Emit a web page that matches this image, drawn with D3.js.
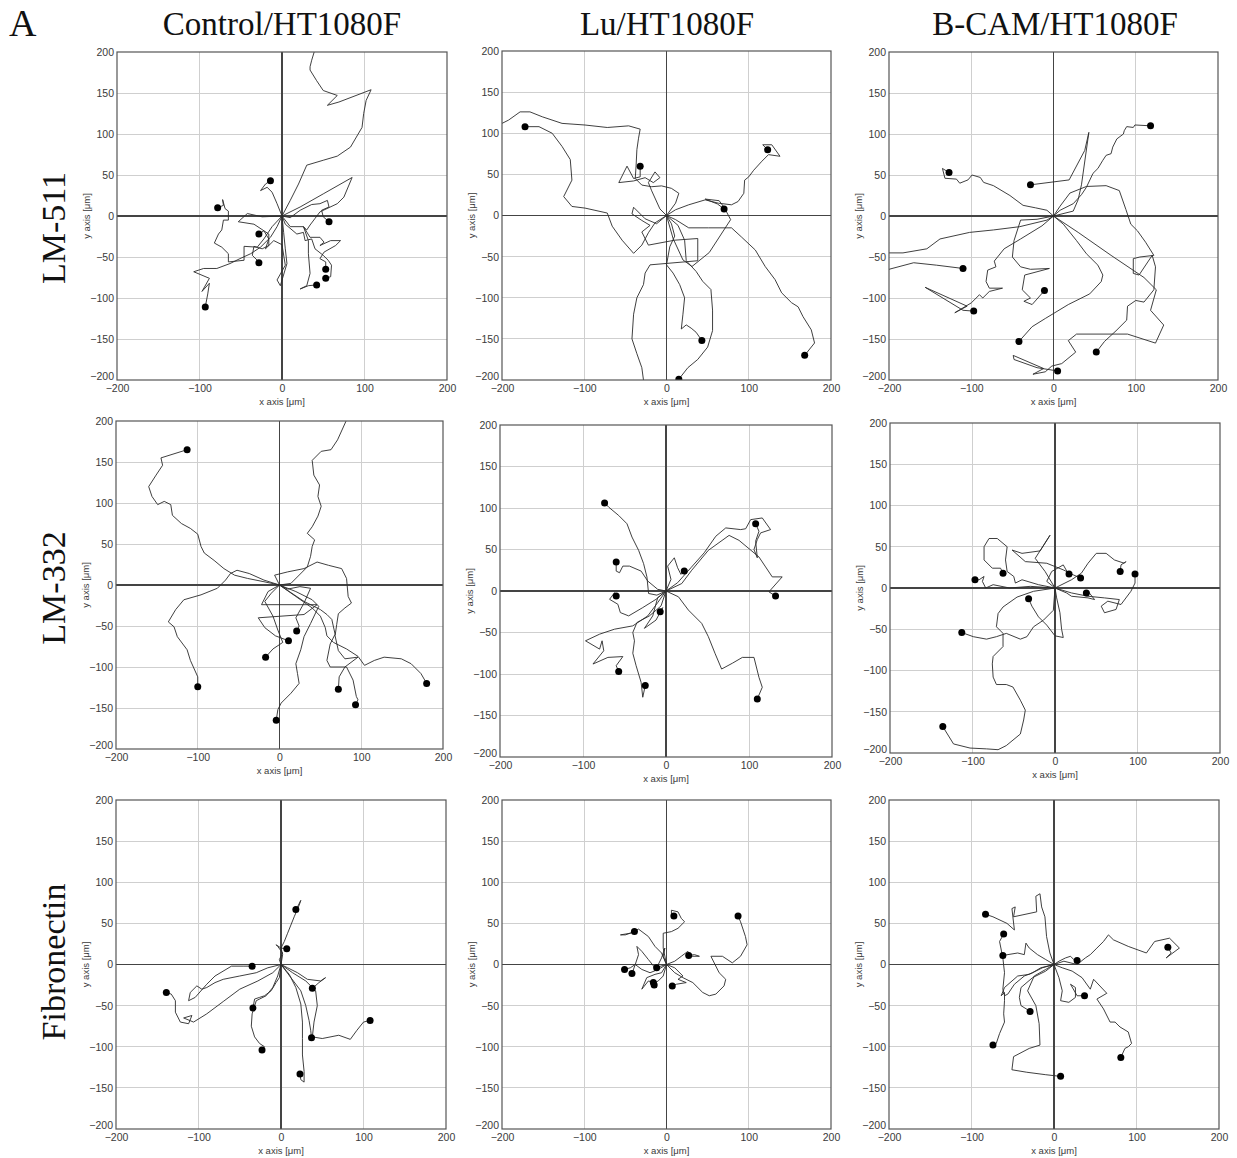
<!DOCTYPE html>
<html>
<head>
<meta charset="utf-8">
<script src="https://cdn.jsdelivr.net/npm/d3@7"></script>
<style>
  html, body { margin: 0; padding: 0; background: #fff; }
  svg { display: block; }
</style>
</head>
<body>
<script>
// Cell migration tracks (µm), every track starts at the origin and ends at its dot.
const colTitles = ["Control/HT1080F", "Lu/HT1080F", "B-CAM/HT1080F"];
const rowTitles = ["LM-511", "LM-332", "Fibronectin"];
const xTicks = [-200, -100, 0, 100, 200];
const yTicks = [-200, -150, -100, -50, 0, 50, 100, 150, 200];

const controlLM511 = [
  [[0,0],[10,19],[20,39],[30,62],[50,68],[67,73],[83,84],[97,108],[99,125],[102,141],[108,154],[69,139],[55,135],[67,147],[50,153],[42,165],[34,178],[34,182],[36,190],[39,200],[41,215]],
  [[0,0],[-6,15],[-12,29],[-18,35],[-26,31],[-20,39],[-14,43]],
  [[0,0],[-12,-13],[-22,-28],[-30,-38],[-46,-37],[-46,-54],[-65,-56],[-65,-46],[-73,-38],[-82,-33],[-77,-22],[-73,-17],[-71,-5],[-65,-5],[-65,6],[-69,9],[-72,20],[-71,13],[-78,10]],
  [[0,0],[-6,-13],[-14,-26],[-26,-38],[-38,-46],[-51,-52],[-63,-58],[-79,-64],[-95,-64],[-107,-68],[-88,-76],[-97,-92],[-88,-82],[-90,-95],[-93,-111]],
  [[0,0],[2,-20],[4,-40],[6,-58],[-2,-85],[-6,-78],[4,-60],[0,-35],[-10,-30],[-20,-40],[-16,-28],[-22,-18],[-28,-22]],
  [[0,0],[-24,-1],[-42,3],[-53,-7],[-34,-10],[-16,-22],[-16,-36],[-24,-40],[-34,-37],[-36,-48],[-30,-54],[-28,-57]],
  [[0,0],[10,-2],[22,7],[36,14],[46,15],[55,19],[57,11],[48,7],[50,-1],[57,-7]],
  [[0,0],[22,11],[50,27],[85,47],[75,23],[67,15],[46,5],[40,-3],[34,-11],[30,-17],[26,-13],[32,-30],[32,-46],[34,-70],[30,-85],[22,-89],[32,-85],[42,-84]],
  [[0,0],[10,-13],[26,-13],[34,-26],[46,-26],[51,-32],[46,-36],[59,-30],[71,-30],[65,-36],[51,-44],[46,-52],[53,-56],[53,-65]],
  [[0,0],[4,-10],[18,-22],[26,-20],[28,-30],[36,-28],[40,-40],[50,-48],[56,-54],[60,-60],[59,-74],[53,-76]]
];

const luLM511 = [
  [[0,0],[-14,-9],[-22,-21],[-30,-36],[-40,-46],[-54,-30],[-66,-13],[-72,3],[-99,9],[-115,11],[-125,23],[-115,43],[-117,68],[-127,84],[-139,100],[-155,108],[-172,108]],
  [[0,0],[11,15],[15,27],[6,33],[-6,36],[-18,35],[-30,37],[-38,45],[-37,60],[-36,80],[-34,94],[-32,105],[-46,109],[-72,107],[-99,110],[-127,112],[-151,120],[-166,126],[-178,126],[-192,116],[-200,112],[-215,110]],
  [[0,0],[-8,8],[-18,30],[-22,40],[-14,53],[-8,46],[-16,40],[-26,46],[-40,42],[-58,40],[-48,60],[-40,45],[-32,47],[-32,60]],
  [[0,0],[11,7],[27,13],[47,19],[63,15],[79,13],[87,17],[94,27],[95,43],[100,47],[106,55],[116,66],[124,74],[138,72],[128,86],[117,86],[123,80]],
  [[0,0],[8,-28],[20,-54],[31,-62],[52,-45],[78,-5],[70,10],[64,18],[47,20],[62,14],[70,8]],
  [[0,0],[11,-5],[27,-15],[51,-15],[79,-15],[91,-26],[108,-42],[120,-62],[132,-78],[140,-94],[152,-106],[160,-111],[166,-123],[176,-139],[180,-155],[168,-170]],
  [[0,0],[6,-10],[10,-25],[4,-38],[0,-60],[8,-70],[16,-84],[22,-100],[20,-120],[18,-138],[24,-133],[30,-137],[36,-142],[43,-152]],
  [[0,0],[14,-12],[22,-30],[24,-55],[36,-68],[44,-80],[54,-90],[56,-115],[56,-140],[50,-160],[38,-175],[26,-185],[15,-199]],
  [[0,0],[-12,-10],[-26,-4],[-40,10],[-42,2],[-30,-6],[-20,-12],[-30,-20],[-22,-36],[10,-30],[38,-28],[38,-55],[-20,-60],[-26,-70],[-28,-84],[-36,-100],[-40,-120],[-42,-150],[-36,-168],[-30,-185],[-28,-200],[-28,-215]]
];

const bcamLM511 = [
  [[0,0],[8,7],[24,15],[34,26],[40,35],[48,52],[54,58],[60,68],[64,74],[70,76],[72,84],[77,94],[85,100],[86,104],[89,109],[97,108],[99,111],[118,110]],
  [[0,0],[-8,7],[-22,10],[-37,13],[-53,25],[-73,37],[-85,41],[-89,47],[-99,50],[-104,44],[-114,40],[-118,45],[-132,46],[-135,58],[-127,53]],
  [[0,0],[24,6],[30,20],[34,38],[43,102],[38,80],[19,44],[-28,38]],
  [[0,0],[-8,-5],[-41,-13],[-73,-17],[-102,-20],[-138,-28],[-154,-40],[-183,-45],[-200,-45],[-215,-50],[-200,-65],[-170,-57],[-142,-60],[-110,-64]],
  [[0,0],[-14,-12],[-40,-28],[-60,-40],[-72,-55],[-70,-62],[-80,-66],[-82,-80],[-78,-88],[-62,-88],[-78,-92],[-86,-100],[-90,-96],[-100,-106],[-120,-118],[-105,-110],[-156,-87],[-110,-115],[-97,-116]],
  [[0,0],[-20,-4],[-40,-5],[-48,-30],[-50,-50],[-40,-62],[-28,-65],[-5,-64],[-35,-72],[-38,-90],[-28,-100],[-36,-104],[-26,-108],[-11,-91]],
  [[0,0],[12,-10],[28,-30],[40,-46],[54,-60],[60,-72],[58,-80],[44,-95],[18,-108],[-10,-125],[-26,-135],[-42,-153]],
  [[0,0],[8,12],[20,28],[40,36],[64,37],[80,31],[88,8],[94,-10],[102,-18],[112,-32],[122,-48],[105,-50],[97,-52],[97,-70],[104,-72],[120,-48],[124,-62],[122,-90],[110,-105],[100,-103],[90,-110],[89,-127],[76,-140],[62,-153],[52,-166]],
  [[0,0],[30,-20],[70,-48],[110,-75],[125,-90],[118,-115],[134,-133],[124,-155],[90,-144],[28,-144],[18,-152],[27,-166],[10,-180],[-2,-183],[-10,-190],[-25,-193],[-12,-186],[-49,-170],[-48,-175],[-20,-185],[5,-189]]
];

const controlLM332 = [
  [[0,0],[-19,4],[-39,8],[-55,12],[-68,20],[-80,30],[-92,39],[-96,47],[-100,62],[-109,69],[-120,75],[-131,85],[-133,98],[-141,102],[-149,98],[-156,108],[-160,120],[-151,134],[-143,146],[-145,155],[-113,165]],
  [[0,0],[14,2],[34,22],[38,35],[40,47],[43,55],[34,63],[40,71],[47,84],[51,96],[47,108],[49,122],[42,134],[40,152],[51,163],[63,165],[71,177],[81,199],[86,215]],
  [[0,0],[-19,6],[-37,14],[-52,18],[-60,14],[-66,6],[-76,-4],[-96,-12],[-117,-18],[-127,-30],[-136,-45],[-129,-51],[-125,-63],[-113,-79],[-109,-92],[-100,-112],[-100,-124]],
  [[0,0],[-10,-10],[-18,-20],[-8,-38],[-2,-55],[4,-70],[-8,-78],[-17,-88]],
  [[0,0],[-14,-8],[-22,-24],[46,-24],[30,-36],[-26,-40],[-18,-52],[-5,-62],[11,-68]],
  [[0,0],[10,-5],[25,-2],[38,-4],[30,-22],[20,-40],[24,-50],[21,-56]],
  [[0,0],[20,-8],[40,-18],[48,-26],[38,-47],[30,-63],[26,-79],[20,-96],[22,-108],[24,-120],[14,-132],[2,-144],[-2,-152],[-4,-165]],
  [[0,0],[-6,12],[10,16],[30,20],[46,28],[60,24],[76,20],[82,8],[84,-14],[88,-22],[80,-28],[72,-35],[70,-48],[68,-62],[72,-80],[80,-90],[96,-88],[80,-100],[73,-112],[72,-127]],
  [[0,0],[30,-20],[50,-30],[58,-36],[64,-42],[68,-60],[62,-72],[58,-92],[62,-100],[82,-100],[90,-116],[94,-136],[96,-140],[93,-146]],
  [[0,0],[20,-14],[40,-28],[50,-38],[56,-52],[58,-62],[66,-70],[82,-78],[96,-87],[104,-98],[116,-92],[128,-88],[149,-90],[161,-96],[173,-108],[180,-120]]
];

const luLM332 = [
  [[0,0],[-11,-5],[-21,-3],[-23,17],[-27,33],[-33,49],[-41,65],[-47,81],[-57,91],[-69,101],[-74,106]],
  [[0,0],[14,10],[30,28],[46,46],[60,66],[72,76],[90,74],[96,75],[102,86],[116,88],[126,74],[114,70],[110,62],[106,50],[110,40],[108,60],[112,72],[108,81]],
  [[0,0],[19,9],[31,25],[51,49],[76,67],[88,61],[112,41],[120,29],[128,17],[140,17],[124,-1],[132,-6]],
  [[0,0],[15,-7],[27,-23],[43,-39],[51,-55],[59,-75],[67,-94],[80,-87],[92,-80],[106,-80],[112,-104],[116,-116],[110,-130]],
  [[0,0],[-10,-14],[-22,-30],[-40,-42],[-62,-46],[-80,-52],[-97,-60],[-80,-70],[-77,-60],[-75,-72],[-88,-88],[-70,-80],[-52,-79],[-60,-90],[-57,-97]],
  [[0,0],[-6,-18],[-20,-30],[-35,-38],[-40,-50],[-38,-60],[-40,-75],[-36,-90],[-30,-110],[-28,-128],[-25,-114]],
  [[0,0],[-10,2],[-22,12],[-30,24],[-44,30],[-52,30],[-56,22],[-60,24],[-60,35]],
  [[0,0],[-12,-10],[-28,-20],[-45,-30],[-55,-26],[-58,-16],[-68,-10],[-62,-2],[-60,-6]],
  [[0,0],[6,14],[2,30],[10,40],[14,28],[18,20],[22,24]],
  [[0,0],[-10,-8],[-16,-30],[-26,-45],[-12,-35],[-4,-20],[-7,-25]]
];

const bcamLM332 = [
  [[0,0],[-26,-4],[-46,-11],[-63,-23],[-69,-31],[-71,-47],[-63,-55],[-63,-71],[-75,-83],[-76,-92],[-75,-108],[-71,-117],[-59,-117],[-51,-120],[-42,-136],[-36,-148],[-38,-160],[-42,-177],[-59,-191],[-69,-196],[-83,-195],[-103,-194],[-123,-189],[-136,-168]],
  [[0,0],[-2,-27],[-14,-39],[-26,-47],[-34,-59],[-42,-62],[-59,-55],[-71,-59],[-83,-62],[-99,-59],[-113,-54]],
  [[0,0],[-30,2],[-55,0],[-75,4],[-84,0],[-88,8],[-86,14],[-92,10],[-97,10]],
  [[0,0],[-20,4],[-40,10],[-48,6],[-50,14],[-58,20],[-60,34],[-58,50],[-70,60],[-80,60],[-86,50],[-86,34],[-76,24],[-66,24],[-63,18]],
  [[0,0],[-10,8],[-4,20],[10,28],[18,14],[17,17]],
  [[0,0],[-12,20],[-24,36],[-6,64],[-18,45],[-40,42],[-52,46],[-36,32],[-10,30],[10,22],[22,16],[31,12]],
  [[0,0],[14,-6],[20,-10],[40,-12],[48,-14],[40,-4],[38,-6]],
  [[0,0],[2,-12],[6,-30],[8,-50],[10,-60],[0,-58],[-10,-45],[-20,-35],[-28,-22],[-32,-13]],
  [[0,0],[20,10],[32,18],[40,30],[50,42],[62,42],[72,34],[84,30],[86,32],[80,28],[79,20]],
  [[0,0],[20,-6],[40,-10],[60,-12],[78,-14],[74,-26],[60,-30],[56,-22],[64,-16],[80,-20],[92,-4],[97,6],[97,17]]
];

const controlFN = [
  [[0,0],[2,12],[0,20],[4,28],[8,38],[12,48],[16,58],[22,72],[24,78],[20,70],[18,67]],
  [[0,0],[-2,6],[2,14],[-4,22],[-6,24],[0,20],[7,19]],
  [[0,0],[-16,-4],[-30,-10],[-50,-14],[-70,-18],[-80,-22],[-90,-28],[-96,-30],[-102,-26],[-110,-34],[-112,-44],[-104,-40],[-90,-24],[-80,-14],[-60,-2],[-45,-2],[-35,-2]],
  [[0,0],[-10,-10],[-28,-20],[-50,-30],[-70,-45],[-90,-60],[-106,-70],[-118,-65],[-108,-62],[-112,-72],[-122,-70],[-128,-58],[-128,-44],[-133,-36],[-139,-34]],
  [[0,0],[8,-4],[20,-10],[32,-18],[48,-20],[54,-16],[46,-22],[38,-29]],
  [[0,0],[-2,-16],[-6,-22],[-12,-32],[-20,-38],[-26,-40],[-32,-42],[-34,-53]],
  [[0,0],[-4,-14],[-10,-28],[-18,-38],[-30,-44],[-35,-60],[-36,-75],[-32,-88],[-26,-96],[-20,-100],[-23,-104]],
  [[0,0],[10,-12],[18,-28],[24,-48],[26,-70],[26,-90],[26,-110],[28,-130],[28,-143],[24,-140],[23,-133]],
  [[0,0],[12,-16],[24,-32],[30,-50],[34,-68],[36,-80],[37,-89]],
  [[0,0],[14,-10],[30,-20],[42,-32],[44,-50],[40,-70],[38,-88],[50,-90],[70,-86],[84,-91],[92,-80],[100,-70],[108,-68]]
];

const luFN = [
  [[0,0],[-4,20],[-4,38],[6,40],[14,44],[22,52],[18,56],[14,64],[6,66],[6,58],[9,59]],
  [[0,0],[10,-10],[20,-16],[32,-22],[44,-34],[52,-38],[60,-36],[70,-26],[72,-18],[64,-10],[54,10],[68,10],[80,2],[90,10],[98,24],[96,34],[90,52],[87,59]],
  [[0,0],[-6,14],[-14,22],[-22,34],[-34,43],[-44,38],[-56,36],[-50,36],[-39,40]],
  [[0,0],[10,4],[18,10],[26,16],[30,10],[40,10],[34,12],[27,11]],
  [[0,0],[-10,-6],[-20,-10],[-30,-6],[-38,0],[-44,-4],[-51,-6]],
  [[0,0],[-14,-4],[-22,6],[-30,16],[-36,22],[-34,12],[-38,0],[-42,-11]],
  [[0,0],[-4,10],[-2,20],[-6,8],[-12,-4]],
  [[0,0],[-6,-10],[-14,-12],[-24,-16],[-30,-30],[-22,-20],[-16,-22]],
  [[0,0],[-4,-14],[-10,-20],[-18,-24],[-12,-28],[-15,-25]],
  [[0,0],[10,-4],[20,-14],[14,-18],[24,-22],[12,-24],[7,-26]]
];

const bcamFN = [
  [[0,0],[-5,14],[-9,34],[-11,58],[-15,70],[-17,86],[-22,83],[-21,64],[-49,58],[-47,70],[-51,68],[-48,42],[-57,50],[-74,58],[-83,61]],
  [[0,0],[-16,-4],[-26,-10],[-36,-14],[-48,-24],[-56,-36],[-60,-38],[-62,-30],[-60,-10],[-62,8],[-66,28],[-61,37]],
  [[0,0],[-10,6],[-20,12],[-30,20],[-34,26],[-36,12],[-44,14],[-62,11]],
  [[0,0],[6,4],[14,8],[20,10],[24,6],[28,5]],
  [[0,0],[12,4],[28,0],[38,8],[44,12],[52,20],[60,28],[66,36],[72,30],[90,22],[112,14],[122,28],[140,32],[152,20],[136,8],[142,14],[138,21]],
  [[0,0],[6,-16],[10,-32],[8,-44],[18,-46],[26,-40],[26,-28],[20,-24],[28,-38],[37,-38]],
  [[0,0],[-10,-8],[-26,-16],[-40,-28],[-42,-40],[-40,-50],[-32,-55],[-29,-57]],
  [[0,0],[-14,-4],[-30,-12],[-44,-14],[-60,-28],[-64,-38],[-60,-34],[-60,-44],[-61,-60],[-60,-70],[-66,-84],[-70,-96],[-74,-98]],
  [[0,0],[10,-4],[22,-8],[34,-16],[44,-30],[48,-18],[64,-35],[52,-42],[60,-54],[68,-70],[74,-70],[80,-76],[90,-82],[94,-96],[90,-100],[86,-102],[81,-113]],
  [[0,0],[-10,-6],[-24,-14],[-32,-32],[-22,-50],[-18,-72],[-17,-98],[-30,-102],[-49,-112],[-51,-128],[-33,-131],[-10,-134],[8,-136]]
];

// Grid of panels: rows = substrate, columns = cell line
const panelTracks = [
  [controlLM511, luLM511, bcamLM511],
  [controlLM332, luLM332, bcamLM332],
  [controlFN, luFN, bcamFN]
];

// Plot-area boxes [left, top, width, height]
const panelBoxes = [
  [[117, 52, 330, 328], [502, 51, 329, 329], [889, 52, 329, 328]],
  [[116, 421, 327, 328], [500, 425, 332, 332], [890, 423, 330, 330]],
  [[116, 800, 330, 329], [502, 800, 329, 329], [889, 800, 330, 329]]
];

const W = 1237, H = 1158;
const svg = d3.select("body").append("svg")
  .attr("width", W).attr("height", H)
  .attr("viewBox", `0 0 ${W} ${H}`);

const serif = "'Liberation Serif', 'Times New Roman', Times, serif";
const sans = "'Liberation Sans', Arial, Helvetica, sans-serif";

// Panel letter
svg.append("text").attr("x", 9).attr("y", 36)
  .attr("font-family", serif).attr("font-size", 38).attr("fill", "#111").text("A");

// Column headings
const colCenters = [282, 667, 1055];
colTitles.forEach((t, i) => {
  svg.append("text").attr("x", colCenters[i]).attr("y", 35)
    .attr("text-anchor", "middle")
    .attr("font-family", serif).attr("font-size", 33).attr("fill", "#111").text(t);
});

// Row headings (rotated)
const rowCenters = [228, 588, 962];
rowTitles.forEach((t, i) => {
  svg.append("text")
    .attr("transform", `translate(65,${rowCenters[i]}) rotate(-90)`)
    .attr("text-anchor", "middle")
    .attr("font-family", serif).attr("font-size", 34).attr("fill", "#111").text(t);
});

const line = d3.line();

panelTracks.forEach((row, r) => {
  row.forEach((tracks, c) => {
    const [L, T, PW, PH] = panelBoxes[r][c];
    const x = d3.scaleLinear().domain([-200, 200]).range([L, L + PW]);
    const y = d3.scaleLinear().domain([-200, 200]).range([T + PH, T]);
    const g = svg.append("g");
    const clipId = `clip-${r}-${c}`;
    g.append("clipPath").attr("id", clipId)
      .append("rect").attr("x", L).attr("y", T).attr("width", PW).attr("height", PH);

    // light grid
    const grid = g.append("g").attr("stroke", "#cfcfcf").attr("stroke-width", 1).attr("shape-rendering", "crispEdges");
    xTicks.filter(v => v !== 0 && Math.abs(v) !== 200).forEach(v => {
      grid.append("line").attr("x1", x(v)).attr("x2", x(v)).attr("y1", T).attr("y2", T + PH);
    });
    yTicks.filter(v => v !== 0 && Math.abs(v) !== 200).forEach(v => {
      grid.append("line").attr("x1", L).attr("x2", L + PW).attr("y1", y(v)).attr("y2", y(v));
    });
    // zero axes
    const zero = g.append("g").attr("stroke", "#444").attr("stroke-width", 1.1).attr("shape-rendering", "crispEdges");
    zero.append("line").attr("x1", x(0)).attr("x2", x(0)).attr("y1", T).attr("y2", T + PH);
    zero.append("line").attr("x1", L).attr("x2", L + PW).attr("y1", y(0)).attr("y2", y(0));

    // tracks
    const trackG = g.append("g").attr("clip-path", `url(#${clipId})`);
    line.x(d => x(d[0])).y(d => y(d[1]));
    trackG.selectAll("path").data(tracks).join("path")
      .attr("d", line)
      .attr("fill", "none")
      .attr("stroke", "#2a2a2a")
      .attr("stroke-width", 0.9)
      .attr("stroke-linejoin", "round");
    trackG.selectAll("circle").data(tracks).join("circle")
      .attr("cx", d => x(d[d.length - 1][0]))
      .attr("cy", d => y(d[d.length - 1][1]))
      .attr("r", 3.5)
      .attr("fill", "#000");

    // frame
    g.append("rect").attr("x", L).attr("y", T).attr("width", PW).attr("height", PH)
      .attr("fill", "none").attr("stroke", "#555").attr("stroke-width", 1.2);

    // axes with labels only
    const xAxis = d3.axisBottom(x).tickValues(xTicks).tickSize(0).tickPadding(5);
    const yAxis = d3.axisLeft(y).tickValues(yTicks).tickSize(0).tickPadding(3);
    const xa = g.append("g").attr("transform", `translate(0,${T + PH})`).call(xAxis);
    const ya = g.append("g").attr("transform", `translate(${L},0)`).call(yAxis);
    [xa, ya].forEach(a => {
      a.select(".domain").remove();
      a.selectAll("text").attr("font-family", sans).attr("font-size", 10.5).attr("fill", "#3a3a3a");
    });
    // keep the bottom y label clear of the first x label
    ya.selectAll(".tick").filter(d => d === -200).select("text").attr("dy", "-0.05em");

    // axis titles
    g.append("text").attr("x", L + PW / 2).attr("y", T + PH + 25)
      .attr("text-anchor", "middle").attr("font-family", sans).attr("font-size", 9.5).attr("fill", "#3a3a3a")
      .text("x axis [μm]");
    g.append("text")
      .attr("transform", `translate(${L - 27},${T + PH / 2}) rotate(-90)`)
      .attr("text-anchor", "middle").attr("font-family", sans).attr("font-size", 9.5).attr("fill", "#3a3a3a")
      .text("y axis [μm]");
  });
});
</script>
</body>
</html>
